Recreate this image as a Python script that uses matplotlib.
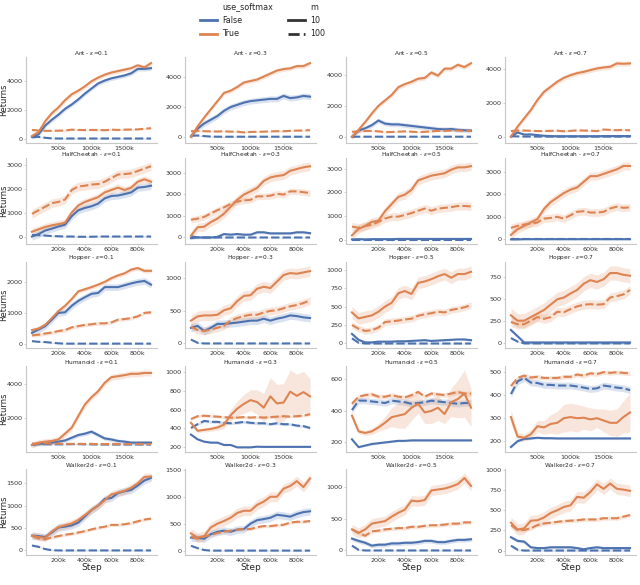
import matplotlib

matplotlib.use("Agg")
import matplotlib.pyplot as plt
from matplotlib.lines import Line2D
from matplotlib.patches import Rectangle
import numpy as np

# x positions (thousands of steps)
steps_2m_k = [100, 200, 300, 400, 500, 600, 700, 800, 900, 1000,
              1100, 1200, 1300, 1400, 1500, 1600, 1700, 1800, 1900]
steps_1m_k = [0, 50, 100, 150, 200, 250, 300, 350, 400, 450,
              500, 550, 600, 650, 700, 750, 800, 850, 900]
xticks_2m_k = [500, 1000, 1500]
xticks_1m_k = [200, 400, 600, 800]

envs = ["Ant", "HalfCheetah", "Hopper", "Humanoid", "Walker2d"]
epsilons = ["0.1", "0.3", "0.5", "0.7"]

# each panel: [False/m=10, False/m=100, True/m=10, True/m=100]
ant_01 = [
    [120, 300, 900, 1300, 1650, 2050, 2350, 2700, 3100, 3450, 3800, 4000, 4150, 4250, 4350, 4500, 4800, 4800, 4850],
    [100, 120, 60, 20, 10, 10, 10, 10, 10, 10, 10, 10, 10, 10, 10, 10, 10, 10, 10],
    [180, 450, 1200, 1750, 2150, 2650, 3050, 3300, 3600, 3950, 4200, 4400, 4550, 4650, 4750, 4850, 5050, 4900, 5200],
    [600, 560, 540, 540, 550, 560, 620, 600, 590, 600, 600, 580, 620, 600, 620, 630, 640, 680, 720],
]
ant_03 = [
    [50, 550, 900, 1150, 1400, 1750, 2000, 2150, 2300, 2400, 2450, 2500, 2550, 2550, 2750, 2600, 2650, 2750, 2700],
    [80, 90, 50, 20, 10, 10, 10, 10, 10, 10, 10, 10, 10, 10, 10, 10, 10, 10, 10],
    [0, 700, 1300, 1850, 2400, 2950, 3100, 3350, 3650, 3750, 3850, 4050, 4250, 4450, 4550, 4600, 4750, 4750, 4950],
    [380, 400, 380, 370, 360, 380, 350, 350, 300, 330, 340, 350, 370, 380, 380, 400, 420, 430, 450],
]
ant_05 = [
    [0, 400, 550, 750, 1050, 850, 800, 800, 750, 700, 650, 600, 550, 500, 480, 500, 450, 420, 400],
    [0, 5, 5, 5, 5, 5, 5, 5, 5, 5, 5, 5, 5, 5, 5, 5, 5, 5, 5],
    [0, 450, 950, 1500, 2000, 2350, 2700, 3200, 3400, 3550, 3750, 3800, 4150, 3950, 4400, 4400, 4650, 4500, 4750],
    [320, 350, 370, 380, 350, 300, 310, 330, 350, 330, 300, 320, 350, 380, 380, 400, 400, 380, 400],
]
ant_07 = [
    [0, 250, 120, 130, 90, 50, 30, 20, 20, 20, 20, 20, 20, 20, 30, 30, 30, 30, 30],
    [20, 10, 0, 0, 0, 0, 0, 0, 0, 0, 0, 0, 0, 0, 0, 0, 0, 0, 0],
    [0, 590, 1090, 1580, 2180, 2670, 2970, 3270, 3500, 3660, 3780, 3860, 3960, 4060, 4120, 4160, 4360, 4340, 4360],
    [330, 360, 360, 350, 330, 330, 340, 350, 320, 340, 370, 360, 350, 330, 420, 400, 380, 400, 370],
]
halfcheetah_01 = [
    [0, 100, 250, 330, 420, 500, 850, 1100, 1200, 1270, 1380, 1600, 1700, 1720, 1780, 1850, 2050, 2080, 2130],
    [60, 60, 40, 20, 10, 0, 0, -10, -10, -10, 0, 0, 0, 0, 0, 0, 0, 0, 0],
    [200, 300, 400, 470, 520, 580, 1000, 1300, 1450, 1550, 1650, 1850, 1950, 2050, 1950, 2050, 2300, 2400, 2300],
    [950, 1100, 1250, 1400, 1450, 1550, 1950, 2100, 2130, 2180, 2200, 2300, 2450, 2600, 2620, 2650, 2750, 2850, 2950],
]
halfcheetah_03 = [
    [-30, 0, 0, 0, 30, 160, 130, 160, 130, 130, 240, 240, 190, 190, 190, 190, 240, 240, 200],
    [50, 10, 0, 0, 0, 0, 0, 0, 0, 0, 0, 0, 0, 0, 0, 0, 0, 0, 0],
    [80, 470, 500, 710, 870, 1100, 1420, 1740, 1980, 2130, 2290, 2610, 2770, 2840, 2880, 3080, 3160, 3240, 3290],
    [820, 870, 950, 1110, 1260, 1390, 1550, 1660, 1710, 1740, 1900, 1900, 1930, 2020, 1980, 2130, 2130, 2090, 2050],
]
halfcheetah_05 = [
    [10, 20, 10, 20, 20, 20, 20, 30, 30, 30, 30, 30, 30, 30, 30, 30, 30, 30, 30],
    [0, 0, 0, 0, 0, 0, 0, 0, 0, 0, 0, 0, 0, 0, 0, 0, 0, 0, 0],
    [180, 450, 580, 750, 800, 1200, 1500, 1800, 1900, 2100, 2500, 2600, 2700, 2750, 2800, 2950, 3050, 3050, 3100],
    [550, 500, 570, 630, 750, 890, 970, 970, 1040, 1120, 1220, 1310, 1220, 1310, 1340, 1370, 1420, 1420, 1400],
]
halfcheetah_07 = [
    [0, 0, 10, 10, 10, 10, 10, 10, 10, 10, 10, 10, 10, 10, 10, 10, 10, 10, 10],
    [0, 0, 0, 0, 0, 0, 0, 0, 0, 0, 0, 0, 0, 0, 0, 0, 0, 0, 0],
    [200, 450, 600, 750, 900, 1350, 1650, 1850, 2050, 2200, 2300, 2550, 2800, 2800, 2900, 3000, 3100, 3250, 3250],
    [510, 600, 660, 700, 750, 920, 950, 1000, 920, 1070, 1220, 1250, 1190, 1190, 1220, 1370, 1450, 1400, 1420],
]
hopper_01 = [
    [360, 470, 580, 790, 1010, 1030, 1240, 1400, 1520, 1630, 1660, 1850, 1850, 1850, 1910, 1970, 2020, 2050, 1930],
    [90, 70, 60, 40, 20, 10, 10, 10, 10, 10, 10, 10, 10, 10, 10, 10, 10, 10, 10],
    [450, 500, 620, 840, 1070, 1240, 1460, 1710, 1780, 1850, 1930, 2020, 2140, 2230, 2300, 2420, 2470, 2380, 2380],
    [280, 300, 340, 370, 420, 450, 540, 580, 620, 640, 670, 670, 700, 790, 810, 840, 900, 1010, 1030],
]
hopper_03 = [
    [240, 270, 190, 240, 300, 300, 310, 320, 335, 350, 350, 380, 350, 380, 400, 430, 420, 400, 390],
    [60, 10, 0, 0, 0, 0, 0, 0, 0, 0, 0, 0, 0, 0, 0, 0, 0, 0, 0],
    [350, 415, 430, 430, 440, 510, 540, 650, 730, 740, 840, 870, 850, 950, 1050, 1080, 1070, 1090, 1110],
    [260, 205, 190, 215, 240, 270, 350, 390, 420, 440, 440, 475, 500, 510, 540, 570, 590, 620, 660],
]
hopper_05 = [
    [130, 50, 15, 15, 25, 25, 25, 30, 30, 35, 40, 45, 35, 40, 45, 50, 55, 55, 45],
    [70, 10, 0, 0, 0, 0, 0, 0, 0, 0, 0, 0, 0, 0, 0, 0, 0, 0, 0],
    [420, 340, 360, 380, 430, 500, 550, 680, 710, 670, 820, 840, 870, 910, 940, 890, 940, 940, 970],
    [250, 200, 170, 180, 215, 290, 300, 310, 325, 335, 375, 395, 410, 430, 420, 455, 470, 490, 520],
]
hopper_07 = [
    [150, 80, 10, 10, 10, 10, 10, 10, 10, 10, 10, 10, 10, 10, 10, 10, 10, 10, 10],
    [60, 20, 0, 0, 0, 0, 0, 0, 0, 0, 0, 0, 0, 0, 0, 0, 0, 0, 0],
    [315, 255, 255, 295, 335, 375, 435, 495, 515, 560, 600, 670, 710, 690, 720, 790, 790, 770, 760],
    [240, 215, 215, 255, 295, 275, 295, 355, 350, 385, 415, 435, 440, 435, 440, 515, 530, 550, 600],
]
humanoid_01 = [
    [430, 510, 510, 570, 630, 700, 860, 1020, 1100, 1220, 1020, 820, 760, 670, 630, 570, 570, 570, 570],
    [460, 480, 480, 470, 470, 470, 480, 480, 470, 470, 460, 460, 460, 460, 460, 460, 460, 460, 460],
    [430, 570, 630, 670, 760, 1100, 1450, 2140, 2820, 3250, 3600, 4100, 4430, 4490, 4550, 4630, 4630, 4680, 4680],
    [520, 520, 530, 520, 510, 500, 500, 500, 500, 500, 490, 490, 490, 490, 490, 490, 490, 490, 490],
]
humanoid_03 = [
    [335, 285, 260, 250, 250, 225, 225, 200, 200, 200, 207, 205, 205, 205, 205, 205, 205, 205, 205],
    [405, 445, 480, 470, 470, 460, 455, 460, 470, 460, 455, 455, 445, 455, 445, 445, 430, 425, 405],
    [460, 375, 385, 395, 410, 440, 540, 610, 660, 700, 680, 620, 740, 665, 675, 790, 745, 785, 740],
    [500, 530, 535, 530, 525, 520, 515, 515, 520, 515, 520, 515, 520, 525, 530, 525, 530, 535, 550],
]
humanoid_05 = [
    [220, 170, 180, 190, 195, 200, 205, 210, 210, 213, 213, 213, 213, 213, 213, 213, 213, 213, 213],
    [405, 465, 465, 460, 455, 450, 465, 460, 455, 445, 450, 455, 465, 460, 455, 450, 445, 450, 450],
    [370, 270, 260, 270, 295, 325, 360, 370, 380, 420, 445, 390, 400, 420, 380, 455, 475, 510, 420],
    [445, 490, 500, 505, 490, 490, 500, 490, 485, 500, 520, 490, 510, 505, 500, 510, 520, 510, 510],
]
humanoid_07 = [
    [175, 200, 210, 212, 215, 213, 213, 212, 212, 212, 212, 212, 212, 212, 212, 212, 212, 212, 212],
    [405, 460, 475, 455, 453, 445, 445, 442, 442, 442, 438, 433, 427, 430, 442, 438, 433, 430, 422],
    [305, 220, 215, 230, 265, 260, 275, 280, 300, 305, 300, 302, 295, 300, 290, 280, 280, 305, 325],
    [440, 475, 485, 477, 480, 475, 475, 475, 480, 480, 490, 485, 495, 492, 500, 497, 500, 497, 495],
]
walker_01 = [
    [330, 320, 300, 400, 510, 530, 560, 620, 760, 900, 1000, 1150, 1170, 1280, 1320, 1350, 1450, 1560, 1620],
    [110, 80, 30, 5, 0, 0, 0, 0, 0, 0, 0, 0, 0, 0, 0, 0, 0, 0, 0],
    [330, 300, 280, 420, 520, 560, 600, 680, 790, 900, 1000, 1120, 1250, 1290, 1330, 1400, 1500, 1640, 1650],
    [320, 270, 250, 290, 320, 350, 370, 400, 430, 470, 505, 530, 570, 570, 585, 610, 650, 690, 710],
]
walker_03 = [
    [240, 240, 220, 305, 350, 370, 350, 390, 400, 500, 565, 585, 610, 665, 650, 630, 680, 715, 730],
    [90, 45, 10, 0, 0, 0, 0, 0, 0, 0, 0, 0, 0, 0, 0, 0, 0, 0, 0],
    [320, 240, 270, 430, 500, 550, 610, 700, 740, 740, 850, 910, 1000, 1000, 1150, 1200, 1290, 1180, 1340],
    [260, 220, 260, 290, 325, 350, 370, 390, 400, 400, 435, 455, 455, 470, 480, 520, 535, 535, 550],
]
walker_05 = [
    [185, 150, 120, 75, 90, 90, 110, 110, 120, 120, 130, 150, 150, 130, 130, 150, 165, 165, 175],
    [75, 10, 0, 0, 0, 0, 0, 0, 0, 0, 0, 0, 0, 0, 0, 0, 0, 0, 0],
    [330, 275, 330, 420, 440, 460, 530, 590, 640, 780, 770, 790, 940, 955, 970, 1000, 1040, 1135, 1010],
    [330, 275, 230, 300, 310, 330, 340, 350, 350, 370, 370, 385, 395, 395, 405, 420, 420, 440, 440],
]
walker_07 = [
    [165, 120, 110, 40, 30, 30, 40, 40, 40, 40, 30, 15, 30, 40, 30, 30, 30, 30, 30],
    [60, 10, 0, 0, 0, 0, 0, 0, 0, 0, 0, 0, 0, 0, 0, 0, 0, 0, 0],
    [345, 260, 275, 370, 375, 410, 465, 500, 540, 560, 665, 655, 725, 820, 765, 830, 765, 755, 740],
    [315, 255, 255, 275, 315, 335, 345, 355, 365, 370, 375, 385, 385, 385, 400, 400, 400, 420, 440],
]

# 95% band half-widths, same order as the lines
humanoid_03_t10_ci = [20, 20, 20, 25, 30, 40, 60, 80, 100, 110, 130, 150, 200, 200, 200, 230, 230, 220, 190]
humanoid_05_t10_ci = [20, 15, 15, 20, 25, 40, 60, 80, 90, 80, 60, 70, 80, 80, 60, 90, 120, 150, 120]
humanoid_07_t10_ci = [30, 20, 15, 20, 25, 30, 40, 50, 60, 60, 60, 50, 50, 40, 50, 55, 60, 70, 85]
band_widths = [
    [[150, 40, 150, 60], [200, 40, 150, 50], [150, 20, 150, 50], [60, 20, 150, 50]],
    [[150, 30, 150, 180], [60, 20, 200, 150], [30, 20, 180, 170], [30, 20, 180, 170]],
    [[110, 15, 70, 60], [60, 10, 80, 60], [15, 8, 80, 45], [15, 8, 80, 50]],
    [[120, 20, 180, 20], [8, 15, humanoid_03_t10_ci, 15], [6, 20, humanoid_05_t10_ci, 15], [5, 15, humanoid_07_t10_ci, 10]],
    [[80, 15, 80, 35], [70, 10, 90, 30], [35, 10, 80, 30], [20, 10, 70, 25]],
]

yticks = [
    [[0, 2000, 4000]] * 4,
    [[0, 1000, 2000, 3000]] * 4,
    [[0, 1000, 2000], [0, 500, 1000], [0, 250, 500, 750, 1000], [0, 250, 500, 750]],
    [[2000, 4000], [200, 400, 600, 800, 1000], [200, 400, 600], [200, 300, 400, 500]],
    [[0, 500, 1000, 1500], [0, 500, 1000, 1500], [0, 500, 1000], [0, 250, 500, 750, 1000]],
]

panel_data = [
    [ant_01, ant_03, ant_05, ant_07],
    [halfcheetah_01, halfcheetah_03, halfcheetah_05, halfcheetah_07],
    [hopper_01, hopper_03, hopper_05, hopper_07],
    [humanoid_01, humanoid_03, humanoid_05, humanoid_07],
    [walker_01, walker_03, walker_05, walker_07],
]
long_rows = {"Ant", "Humanoid"}

BLUE = "#4C72B0"
ORANGE = "#DD8452"
DASHES = (4, 1.5)
line_styles = [(BLUE, None), (BLUE, DASHES), (ORANGE, None), (ORANGE, DASHES)]

plt.rcParams["font.family"] = "DejaVu Sans"

figure = plt.figure(figsize=(6.4, 5.85), dpi=100)

W, H = 640, 585
col_left = [26, 185, 346, 505]
row_top = [57, 158, 262, 366, 469]
ax_w, ax_h = 131, 86

for r, env in enumerate(envs):
    if env in long_rows:
        x = np.array(steps_2m_k) * 1000
        xt = xticks_2m_k
    else:
        x = np.array(steps_1m_k) * 1000
        xt = xticks_1m_k
    for c, eps in enumerate(epsilons):
        axis = figure.add_axes([col_left[c] / W, 1 - (row_top[r] + ax_h) / H, ax_w / W, ax_h / H])
        for k, (color, dashes) in enumerate(line_styles):
            y = np.array(panel_data[r][c][k], dtype=float)
            ci = np.array(band_widths[r][c][k], dtype=float)
            axis.fill_between(x, y - ci, y + ci, color=color, alpha=0.2, linewidth=0)
            line, = axis.plot(x, y, color=color, linewidth=1.5)
            if dashes:
                line.set_dashes(dashes)

        axis.set_xticks([v * 1000 for v in xt])
        axis.set_xticklabels([f"{v}k" for v in xt])
        axis.set_yticks(yticks[r][c])
        lo, hi = axis.get_ylim()
        axis.set_ylim(min(lo, yticks[r][c][0]), max(hi, yticks[r][c][-1] + (hi - lo) * 0.01))
        axis.set_title(f"{env} - $\\varepsilon$={eps}", fontsize=4.2, pad=0.4, color=".15")
        for side in ("top", "right"):
            axis.spines[side].set_visible(False)
        for side in ("left", "bottom"):
            axis.spines[side].set_color("0.78")
            axis.spines[side].set_linewidth(0.8)
        axis.tick_params(labelsize=4.6, length=1.5, width=0.6, color="0.78", labelcolor=".2", pad=0.8)
        if c == 0:
            axis.set_ylabel("Returns", fontsize=6, color=".15")
            axis.yaxis.set_label_coords(-0.135, 0.5)
        if r == len(envs) - 1:
            axis.set_xlabel("Step", fontsize=6.5, color=".15", labelpad=0)

handles = [
    Rectangle((0, 0), 1, 1, visible=False),
    Line2D([], [], color=BLUE, linewidth=2),
    Line2D([], [], color=ORANGE, linewidth=2),
    Rectangle((0, 0), 1, 1, visible=False),
    Line2D([], [], color=".2", linewidth=2),
    Line2D([], [], color=".2", linewidth=2, dashes=DASHES),
]
labels = ["use_softmax", "False", "True", "m", "10", "100"]
figure.legend(handles, labels, ncol=2, loc="upper center", bbox_to_anchor=(0.41, 1.008),
              frameon=False, fontsize=5.8, handlelength=2.2, columnspacing=1.8,
              labelspacing=0.55, handletextpad=0.6, labelcolor=".15")

# caption of the source page, cut off at the bottom edge
cap_y = 1 - 585.5 / H
figure.text(0.004, cap_y, "Figure 3:  Average returns and 95% confidence bands across 100 runs for",
            va="top", ha="left", fontsize=9.5, family="Liberation Serif", color="black")
figure.text(413 / W, cap_y, "False", va="top", ha="left", fontsize=9.5, family="Liberation Serif", color=BLUE)
figure.text(447 / W, cap_y, "and", va="top", ha="left", fontsize=9.5, family="Liberation Serif", color="black")
figure.text(470 / W, cap_y, "True", va="top", ha="left", fontsize=9.5, family="Liberation Serif", color=ORANGE)

figure.savefig("out.png", dpi=100)
plt.close(figure)
